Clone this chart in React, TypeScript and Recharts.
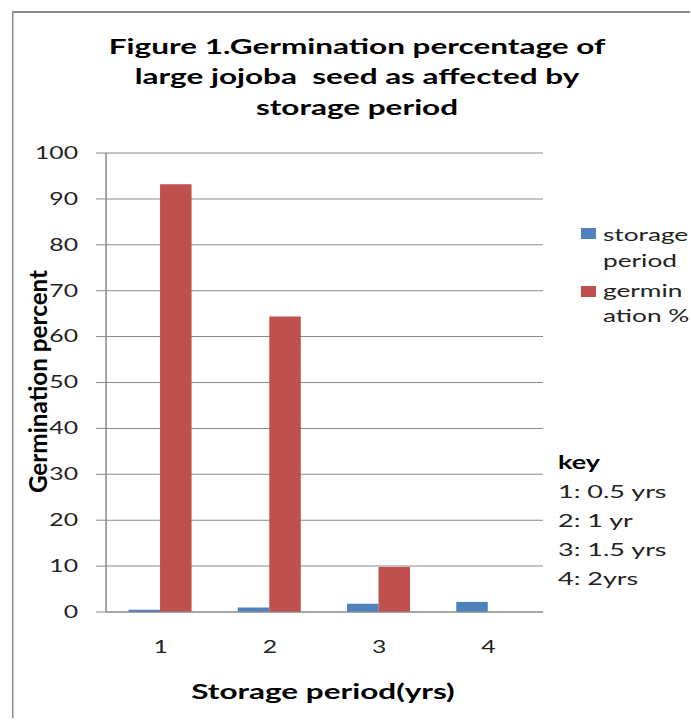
import React from 'react';
import { BarChart, Bar, XAxis, YAxis, CartesianGrid } from 'recharts';

// ---- data ----
const categories = ['1', '2', '3', '4'];
const storagePeriod = [0.5, 1.0, 1.8, 2.2];
const germination = [93.2, 64.4, 9.8, 0];
const yTicks = [0, 10, 20, 30, 40, 50, 60, 70, 80, 90, 100];
const titleLines = [
  'Figure 1.Germination percentage of',
  'large jojoba  seed as affected by',
  'storage period',
];
const legendStorage = ['storage', 'period'];
const legendGerm = ['germin', 'ation %'];
const keyTitle = 'key';
const keyLines = ['1: 0.5 yrs', '2: 1 yr', '3: 1.5 yrs', '4: 2yrs'];
const xTitle = 'Storage period(yrs)';
const yTitle = 'Germination percent';

const BLUE = '#4F81BD';
const RED = '#C0504D';
const GRID = '#8a8a8a';
const TEXT = '#222';
const FONT = 'Lato, "Open Sans", sans-serif';

const data = categories.map((c, i) => ({
  cat: c,
  storage: storagePeriod[i],
  germ: germination[i],
}));

// the reference is horizontally stretched; draw at inner size and stretch
const S = 1.5;
const W = 460;
const H = 718;

const YLabel = (props: any) => {
  const vb = props.viewBox || { x: 0, y: 153, width: 70, height: 459 };
  const cx = 31.3;
  const cy = vb.y + vb.height / 2 - 1;
  return (
    <text
      transform={`translate(${cx},${cy}) rotate(-90) scale(1.47,1)`}
      x={0}
      y={0}
      textAnchor="middle"
      fontFamily={FONT}
      fontWeight="bold"
      fontSize={16.5}
      fill="#000"
    >
      {yTitle}
    </text>
  );
};

const XLabel = (props: any) => {
  const vb = props.viewBox || { x: 70, y: 612, width: 292, height: 106 };
  return (
    <text
      x={vb.x + vb.width / 2 - 1}
      y={699}
      textAnchor="middle"
      fontFamily={FONT}
      fontWeight="bold"
      fontSize={21}
      fill="#000"
    >
      {xTitle}
    </text>
  );
};

export default function App() {
  return (
    <div
      style={{
        position: 'absolute',
        left: 0,
        top: 0,
        width: W,
        height: H,
        overflow: 'hidden',
        transform: `scaleX(${S})`,
        transformOrigin: '0 0',
        background: '#fff',
        fontFamily: FONT,
      }}
    >
      <div
        style={{
          position: 'absolute',
          left: 7.5,
          top: 11,
          width: W,
          height: H,
          borderLeft: '1.4px solid #8c8c8c',
          borderTop: '2px solid #8c8c8c',
        }}
      />
      <div style={{ position: 'absolute', left: 0, top: 0 }}>
        <BarChart
          width={W}
          height={H}
          data={data}
          margin={{ top: 153, right: W - 362, bottom: 0, left: 0 }}
          barGap={0}
        >
          <CartesianGrid vertical={false} stroke={GRID} strokeWidth={1} />
          <XAxis
            dataKey="cat"
            height={106}
            tickLine={false}
            tickSize={0}
            tickMargin={29}
            axisLine={{ stroke: GRID }}
            tick={{ fill: TEXT, fontSize: 16.5, fontFamily: FONT }}
            label={<XLabel />}
          />
          <YAxis
            width={70.7}
            domain={[0, 100]}
            ticks={yTicks}
            interval={0}
            tickSize={6.7}
            tickMargin={12}
            tickLine={{ stroke: GRID }}
            axisLine={{ stroke: GRID }}
            tick={{ fill: TEXT, fontSize: 16.5, fontFamily: FONT }}
            label={<YLabel />}
          />
          <Bar dataKey="storage" fill={BLUE} barSize={21} isAnimationActive={false} />
          <Bar dataKey="germ" fill={RED} barSize={21} isAnimationActive={false} />
        </BarChart>
      </div>
      <svg
        width={W}
        height={H}
        style={{ position: 'absolute', left: 0, top: 0, pointerEvents: 'none' }}
      >
        {titleLines.map((t, i) => (
          <text
            key={t}
            x={238}
            y={54 + i * 30.5}
            textAnchor="middle"
            fontFamily={FONT}
            fontWeight="bold"
            fontSize={21}
            fill="#000"
            style={{ whiteSpace: 'pre' }}
          >
            {t}
          </text>
        ))}
        <rect x={387.3} y={228} width={10} height={11} fill={BLUE} />
        {legendStorage.map((t, i) => (
          <text key={t} x={402} y={241 + i * 26} fontFamily={FONT} fontSize={17.5} fill={TEXT}>
            {t}
          </text>
        ))}
        <rect x={387.3} y={286} width={10} height={11} fill={RED} />
        {legendGerm.map((t, i) => (
          <text key={t} x={402} y={297 + i * 25} fontFamily={FONT} fontSize={17.5} fill={TEXT}>
            {t}
          </text>
        ))}
        <text x={372} y={469} fontFamily={FONT} fontWeight="bold" fontSize={18} fill="#000">
          {keyTitle}
        </text>
        {keyLines.map((t, i) => (
          <text key={t} x={372} y={498 + i * 29} fontFamily={FONT} fontSize={18} fill={TEXT}>
            {t}
          </text>
        ))}
      </svg>
    </div>
  );
}
